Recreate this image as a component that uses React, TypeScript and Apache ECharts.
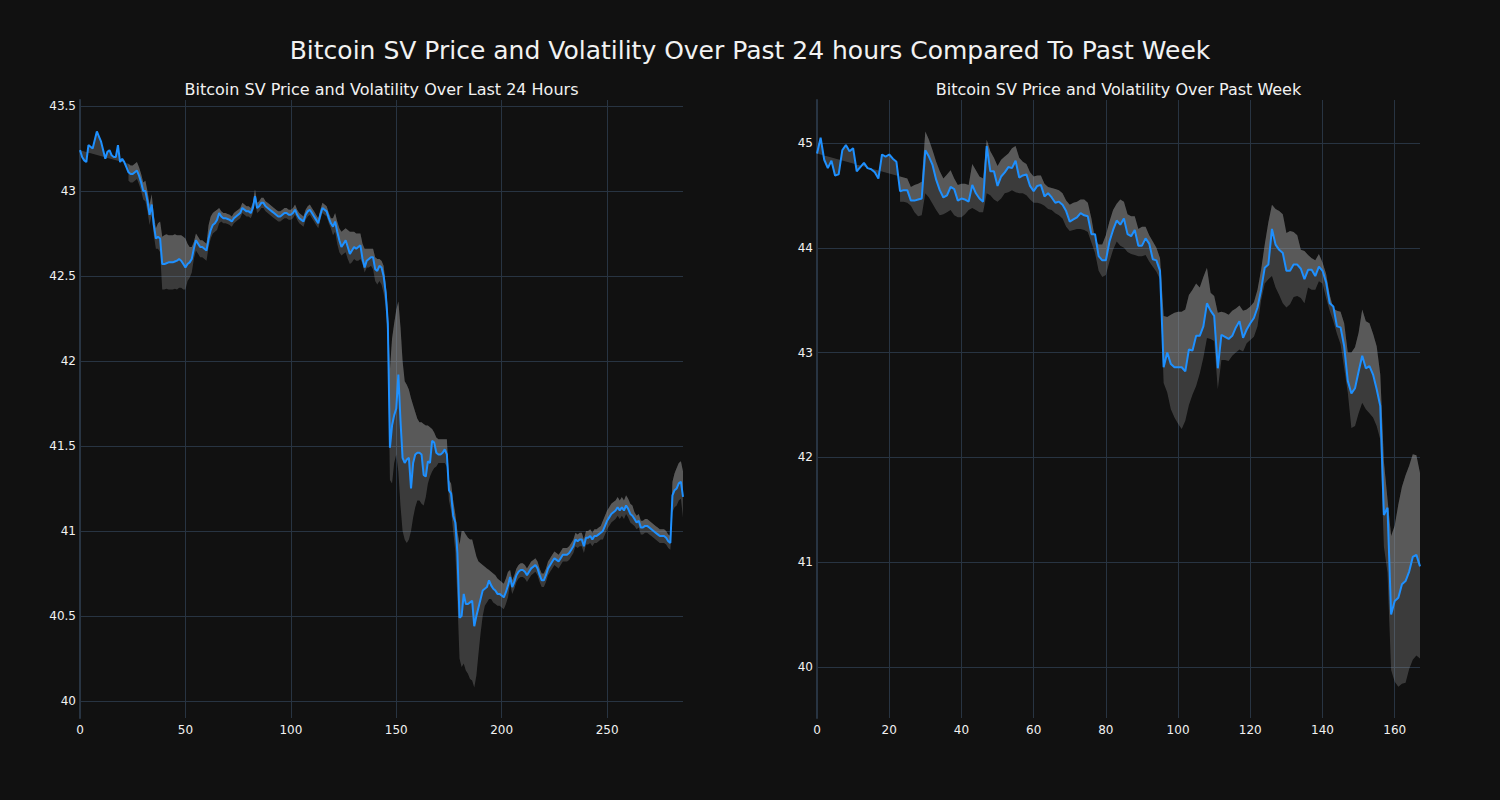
import React, { useEffect, useRef } from "react";
import * as echarts from "echarts";

// ---------- Data: last 24 hours (5-minute steps) ----------
const price24h: number[] = [
  43.24, 43.20, 43.18, 43.17, 43.27, 43.26, 43.25, 43.30, 43.35, 43.32,
  43.29, 43.24, 43.19, 43.23, 43.24, 43.21, 43.20, 43.20, 43.27, 43.17,
  43.19, 43.17, 43.14, 43.11, 43.10, 43.10, 43.11, 43.12, 43.09, 43.05,
  43.00, 43.00, 42.94, 42.86, 42.92, 42.80, 42.72, 42.73, 42.72, 42.57,
  42.57, 42.575, 42.58, 42.58, 42.58, 42.585, 42.59, 42.60, 42.59, 42.57,
  42.55, 42.57, 42.58, 42.60, 42.66, 42.71, 42.69, 42.67, 42.67, 42.66,
  42.65, 42.72, 42.77, 42.80, 42.81, 42.83, 42.87, 42.85, 42.84, 42.84,
  42.835, 42.83, 42.82, 42.84, 42.85, 42.86, 42.87, 42.90, 42.89, 42.88,
  42.88, 42.87, 42.90, 42.97, 42.90, 42.91, 42.93, 42.93, 42.91, 42.90,
  42.89, 42.88, 42.87, 42.86, 42.85, 42.85, 42.86, 42.87, 42.87, 42.86,
  42.86, 42.87, 42.89, 42.86, 42.84, 42.83, 42.82, 42.86, 42.88, 42.89,
  42.87, 42.85, 42.83, 42.81, 42.86, 42.90, 42.89, 42.88, 42.84, 42.81,
  42.79, 42.82, 42.76, 42.71, 42.67, 42.69, 42.71, 42.67, 42.63, 42.65,
  42.67, 42.66, 42.67, 42.68, 42.60, 42.55, 42.59, 42.60, 42.61, 42.61,
  42.54, 42.53, 42.56, 42.55, 42.50, 42.40, 42.22, 41.49, 41.62, 41.68,
  41.72, 41.92, 41.65, 41.43, 41.40, 41.42, 41.43, 41.25, 41.40, 41.45,
  41.46, 41.46, 41.45, 41.33, 41.32, 41.41, 41.40, 41.53, 41.52, 41.46,
  41.45, 41.45, 41.46, 41.48, 41.45, 41.24, 41.22, 41.09, 41.05, 40.87,
  40.49, 40.50, 40.63, 40.57, 40.57, 40.58, 40.59, 40.44, 40.50, 40.55,
  40.60, 40.65, 40.66, 40.67, 40.71, 40.68, 40.66, 40.65, 40.63, 40.63,
  40.62, 40.61, 40.64, 40.68, 40.73, 40.67, 40.70, 40.74, 40.76, 40.77,
  40.77, 40.76, 40.74, 40.76, 40.78, 40.79, 40.80, 40.78, 40.74, 40.71,
  40.71, 40.74, 40.78, 40.80, 40.82, 40.84, 40.83, 40.82, 40.84, 40.86,
  40.86, 40.86, 40.87, 40.89, 40.91, 40.95, 40.94, 40.95, 40.95, 40.91,
  40.96, 40.96, 40.97, 40.95, 40.97, 40.97, 40.98, 40.99, 41.00, 41.03,
  41.06, 41.08, 41.10, 41.11, 41.12, 41.14, 41.12, 41.14, 41.12, 41.15,
  41.13, 41.10, 41.09, 41.07, 41.05, 41.06, 41.02, 41.02, 41.03, 41.03,
  41.02, 41.01, 41.00, 40.99, 40.98, 40.97, 40.97, 40.97, 40.96, 40.94,
  40.93, 41.21, 41.24, 41.25, 41.28, 41.29, 41.20,
];

// band (rolling volatility) starts at this index
const bandStart24h = 23;
// distance from price to the upper band, from index 23 on
const upperSpread24h: number[] = [
  0.05, 0.05, 0.05, 0.05, 0.05, 0.05, 0.05, 0.05,
  0.06, 0.06, 0.06, 0.06, 0.06, 0.06,
  0.08, 0.10,
  0.16, 0.17, 0.17, 0.16, 0.16, 0.16, 0.16, 0.15, 0.14, 0.15, 0.16, 0.17,
  0.12, 0.09, 0.07,
  0.04, 0.04, 0.04, 0.04, 0.04, 0.04, 0.04,
  0.08, 0.08, 0.07, 0.07, 0.06, 0.03,
  0.03, 0.03, 0.03, 0.03, 0.03, 0.03, 0.03, 0.03, 0.03, 0.03,
  0.03, 0.03, 0.03, 0.03, 0.03, 0.03, 0.04, 0.03, 0.03, 0.03,
  0.03, 0.03, 0.03, 0.03, 0.03, 0.03, 0.03, 0.03, 0.03, 0.03,
  0.03, 0.03, 0.03, 0.03, 0.03, 0.03, 0.03, 0.03, 0.03, 0.03,
  0.03, 0.03, 0.03, 0.03, 0.03, 0.03, 0.03, 0.03, 0.03, 0.03,
  0.03, 0.03, 0.03,
  0.05, 0.05, 0.06, 0.07, 0.09, 0.08, 0.07, 0.10, 0.13, 0.11,
  0.09, 0.09, 0.08, 0.07, 0.09, 0.11, 0.07, 0.06, 0.05, 0.05,
  0.07, 0.07, 0.04, 0.04, 0.06,
  0.05, 0.08,
  0.46, 0.51, 0.54, 0.58, 0.43, 0.55, 0.57, 0.48, 0.44, 0.40,
  0.53, 0.34, 0.25, 0.20, 0.18, 0.19, 0.30, 0.30, 0.21, 0.21,
  0.07, 0.06, 0.09, 0.09, 0.09, 0.08, 0.06, 0.09, 0.06, 0.06,
  0.09, 0.05, 0.13, 0.43, 0.50, 0.37, 0.41, 0.39, 0.37, 0.36,
  0.46, 0.35, 0.27, 0.21, 0.15, 0.13, 0.11, 0.06, 0.08, 0.09,
  0.09, 0.09,
  0.08, 0.08, 0.08, 0.08, 0.08,
  0.04, 0.04, 0.04, 0.04, 0.04, 0.04, 0.04, 0.04, 0.04, 0.04,
  0.04, 0.04, 0.04, 0.04, 0.04, 0.04, 0.04, 0.04, 0.04, 0.04,
  0.04, 0.04, 0.04, 0.04, 0.04, 0.04, 0.04, 0.04, 0.04, 0.04,
  0.04, 0.04, 0.04, 0.04, 0.04, 0.04, 0.04, 0.04, 0.04, 0.04,
  0.04, 0.04, 0.04, 0.04,
  0.06, 0.06, 0.06, 0.06, 0.06, 0.06, 0.06, 0.06, 0.06, 0.06,
  0.06, 0.06, 0.06, 0.06, 0.06,
  0.04, 0.04, 0.04, 0.04, 0.04, 0.04, 0.04, 0.04, 0.04, 0.04,
  0.04, 0.04, 0.04, 0.04, 0.04, 0.04, 0.04, 0.04,
  0.08, 0.10, 0.12, 0.12, 0.12, 0.15,
];
// distance from price to the lower band, from index 23 on
const lowerSpread24h: number[] = [
  0.05, 0.05, 0.05, 0.05, 0.05, 0.05, 0.05, 0.05,
  0.06, 0.06, 0.06, 0.06, 0.06, 0.06,
  0.07, 0.08,
  0.15, 0.15, 0.15, 0.16, 0.16, 0.16, 0.16, 0.17, 0.17, 0.16, 0.15, 0.13,
  0.10, 0.09, 0.08,
  0.06, 0.06, 0.06, 0.06, 0.06, 0.06, 0.06,
  0.05, 0.05, 0.05, 0.05, 0.06, 0.06,
  0.03, 0.03, 0.03, 0.03, 0.03, 0.03, 0.03, 0.03, 0.03, 0.03,
  0.03, 0.03, 0.03, 0.03, 0.03, 0.03, 0.03, 0.03, 0.03, 0.03,
  0.03, 0.03, 0.03, 0.03, 0.03, 0.03, 0.03, 0.03, 0.03, 0.03,
  0.03, 0.03, 0.03, 0.03, 0.03, 0.03, 0.03, 0.03, 0.03, 0.03,
  0.03, 0.03, 0.03, 0.03, 0.03, 0.03, 0.03, 0.03, 0.03, 0.03,
  0.03, 0.03, 0.03,
  0.05, 0.06, 0.07, 0.07, 0.05, 0.06, 0.07, 0.07, 0.06, 0.07,
  0.07, 0.07, 0.08, 0.08, 0.03, 0.03, 0.04, 0.05, 0.05, 0.07,
  0.07, 0.08, 0.09, 0.10, 0.10,
  0.08, 0.12,
  0.19, 0.34, 0.28, 0.27, 0.57, 0.50, 0.43, 0.45, 0.49, 0.48,
  0.25, 0.32, 0.31, 0.28, 0.28, 0.29, 0.18, 0.12, 0.13, 0.08,
  0.18, 0.15, 0.08, 0.05, 0.05, 0.06, 0.08, 0.07, 0.06, 0.10,
  0.09, 0.17, 0.27, 0.24, 0.30, 0.41, 0.39, 0.41, 0.45, 0.47,
  0.36, 0.35, 0.27, 0.20, 0.15, 0.10, 0.09, 0.11, 0.08, 0.08,
  0.08, 0.07,
  0.07, 0.07, 0.07, 0.07, 0.07,
  0.04, 0.04, 0.04, 0.04, 0.04, 0.04, 0.04, 0.04, 0.04, 0.04,
  0.04, 0.04, 0.04, 0.04, 0.04, 0.04, 0.04, 0.04, 0.04, 0.04,
  0.04, 0.04, 0.04, 0.04, 0.04, 0.04, 0.04, 0.04, 0.04, 0.04,
  0.04, 0.04, 0.04, 0.04, 0.04, 0.04, 0.04, 0.04, 0.04, 0.04,
  0.04, 0.04, 0.04, 0.04,
  0.05, 0.05, 0.05, 0.05, 0.05, 0.05, 0.05, 0.05, 0.05, 0.05,
  0.05, 0.05, 0.05, 0.05, 0.05,
  0.04, 0.04, 0.04, 0.04, 0.04, 0.04, 0.04, 0.04, 0.04, 0.04,
  0.04, 0.04, 0.04, 0.04, 0.04, 0.04, 0.04, 0.04,
  0.10, 0.10, 0.10, 0.10, 0.10, 0.12,
];

// ---------- Data: past week (hourly) ----------
const priceWeek: number[] = [
  44.90, 45.05, 44.84, 44.76, 44.83, 44.69, 44.70, 44.93, 44.98, 44.92,
  44.95, 44.73, 44.77, 44.81, 44.76, 44.75, 44.72, 44.66, 44.89, 44.87,
  44.89, 44.85, 44.82, 44.54, 44.55, 44.55, 44.45, 44.45, 44.46, 44.47,
  44.93, 44.87, 44.79, 44.65, 44.55, 44.48, 44.50, 44.58, 44.56, 44.45,
  44.47, 44.46, 44.44, 44.60, 44.52, 44.47, 44.44, 44.97, 44.73, 44.73,
  44.59, 44.68, 44.72, 44.77, 44.76, 44.83, 44.67, 44.69, 44.70, 44.59,
  44.54, 44.59, 44.60, 44.49, 44.52, 44.48, 44.43, 44.44, 44.41, 44.35,
  44.25, 44.27, 44.29, 44.33, 44.31, 44.30, 44.13, 44.13, 43.92, 43.88,
  43.88, 44.06, 44.17, 44.26, 44.22, 44.28, 44.13, 44.11, 44.17, 44.02,
  44.02, 44.09, 44.04, 43.89, 43.88, 43.78, 42.86, 43.00, 42.89, 42.86,
  42.86, 42.86, 42.82, 43.03, 43.02, 43.16, 43.16, 43.25, 43.47, 43.40,
  43.35, 42.85, 43.17, 43.15, 43.13, 43.16, 43.24, 43.30, 43.14, 43.22,
  43.28, 43.33, 43.43, 43.60, 43.81, 43.84, 44.18, 44.03, 43.98, 43.95,
  43.78, 43.78, 43.84, 43.84, 43.80, 43.70, 43.79, 43.79, 43.73, 43.82,
  43.78, 43.67, 43.47, 43.44, 43.25, 43.24, 43.06, 42.73, 42.61, 42.66,
  42.82, 42.97, 42.85, 42.87, 42.79, 42.65, 42.49, 41.45, 41.52, 40.50,
  40.63, 40.66, 40.79, 40.82, 40.91, 41.05, 41.07, 40.96,
];

const bandStartWeek = 23;
// upper band, from index 23 on
const upperWeekValues: number[] = [
  44.68, 44.67, 44.66, 44.58, 44.60, 44.61, 44.63,
  45.11, 45.03, 44.93, 44.82, 44.73, 44.66, 44.70, 44.74, 44.66, 44.60,
  44.61, 44.61, 44.60, 44.80, 44.74, 44.68, 44.66, 45.03, 44.92, 44.86,
  44.78, 44.84, 44.87, 44.90, 44.95, 44.97, 44.86, 44.82, 44.80, 44.72,
  44.68, 44.69, 44.69, 44.61, 44.58, 44.57, 44.56, 44.55, 44.52, 44.45,
  44.41, 44.43, 44.44, 44.46, 44.46, 44.43, 44.28, 44.08, 44.03, 44.03,
  44.12, 44.25, 44.36, 44.42, 44.46, 44.44, 44.32, 44.30, 44.30, 44.18,
  44.20, 44.20, 44.12, 44.06, 44.00, 43.90, 43.35, 43.34, 43.36, 43.38,
  43.39, 43.39, 43.41, 43.55, 43.60, 43.66, 43.62, 43.72, 43.81, 43.57,
  43.54, 43.38, 43.39, 43.38, 43.36, 43.40, 43.42, 43.45, 43.40, 43.41,
  43.44, 43.48, 43.60, 43.79, 44.03, 44.24, 44.41, 44.37, 44.35, 44.32,
  44.14, 44.16, 44.15, 44.12, 43.98, 43.97, 43.93, 43.90, 43.88, 43.94,
  43.86, 43.75, 43.55, 43.42, 43.40, 43.39, 43.28, 43.00, 43.00, 43.05,
  43.19, 43.41, 43.30, 43.28, 43.18, 43.06, 42.79, 41.96, 41.60, 41.25,
  41.35, 41.55, 41.72, 41.83, 41.92, 42.03, 42.02, 41.85,
];
// lower band, from index 23 on
const lowerWeekValues: number[] = [
  44.44, 44.44, 44.43, 44.40, 44.34, 44.30, 44.31,
  44.52, 44.48, 44.42, 44.36, 44.31, 44.32, 44.34, 44.36, 44.31, 44.29,
  44.29, 44.32, 44.36, 44.38, 44.36, 44.34, 44.34, 44.52, 44.50, 44.46,
  44.44, 44.47, 44.52, 44.53, 44.55, 44.53, 44.52, 44.52, 44.50, 44.46,
  44.43, 44.43, 44.42, 44.40, 44.37, 44.36, 44.33, 44.31, 44.28, 44.20,
  44.16, 44.17, 44.18, 44.18, 44.17, 44.15, 44.05, 43.95, 43.78, 43.72,
  43.74, 43.87, 43.98, 44.06, 44.02, 44.00, 43.96, 43.94, 43.93, 43.92,
  43.92, 43.93, 43.87, 43.82, 43.77, 43.70, 42.71, 42.62, 42.46, 42.38,
  42.32, 42.27, 42.35, 42.50, 42.60, 42.68, 42.80, 42.95, 43.14, 43.13,
  43.11, 42.65, 42.93, 42.93, 42.92, 42.97, 43.00, 43.03, 43.01, 43.09,
  43.12, 43.15, 43.25, 43.50, 43.66, 43.70, 43.73, 43.62, 43.55, 43.47,
  43.43, 43.46, 43.53, 43.54, 43.52, 43.47, 43.62, 43.60, 43.60, 43.68,
  43.66, 43.52, 43.40, 43.30, 43.18, 43.08, 42.85, 42.62, 42.28, 42.30,
  42.42, 42.52, 42.46, 42.42, 42.38, 42.30, 42.17, 41.15, 40.90, 39.97,
  39.86, 39.81, 39.84, 39.85, 39.98, 40.07, 40.11, 40.08,
];

// ---------- Axis ticks ----------
const yTicks24h = [40, 40.5, 41, 41.5, 42, 42.5, 43, 43.5];
const xTicks24h = [0, 50, 100, 150, 200, 250];
const yTicksWeek = [40, 41, 42, 43, 44, 45];
const xTicksWeek = [0, 20, 40, 60, 80, 100, 120, 140, 160];

const mainTitle = "Bitcoin SV Price and Volatility Over Past 24 hours Compared To Past Week";
const leftTitle = "Bitcoin SV Price and Volatility Over Last 24 Hours";
const rightTitle = "Bitcoin SV Price and Volatility Over Past Week";

// ---------- Styles ----------
const BG = "#111111";
const GRID = "#283442";
const TEXT = "#f2f2f2";
const LINE = "#1e90ff";
const BAND_FILL = "rgba(160,160,160,0.30)";
const FONT = "DejaVu Sans, Verdana, sans-serif";

// build full-length band arrays (null before the rolling window is filled)
const upper24h: (number | null)[] = price24h.map((p, i) =>
  i < bandStart24h ? null : +(p + (upperSpread24h[i - bandStart24h] ?? 0)).toFixed(3)
);
const lower24h: (number | null)[] = price24h.map((p, i) =>
  i < bandStart24h ? null : +(p - (lowerSpread24h[i - bandStart24h] ?? 0)).toFixed(3)
);
const upperWeek: (number | null)[] = priceWeek.map((_, i) =>
  i < bandStartWeek ? null : upperWeekValues[i - bandStartWeek] ?? null
);
const lowerWeek: (number | null)[] = priceWeek.map((_, i) =>
  i < bandStartWeek ? null : lowerWeekValues[i - bandStartWeek] ?? null
);

function bandRenderer(price: number[], upper: (number | null)[], lower: (number | null)[]) {
  return (params: any, api: any) => {
    if (params.dataIndex !== 0) return null;
    const pr: number[][] = [];
    const up: number[][] = [];
    const lo: number[][] = [];
    for (let i = 0; i < price.length; i++) {
      pr.push(api.coord([i, price[i]]));
      const u = upper[i];
      const l = lower[i];
      if (u != null) up.push(api.coord([i, u]));
      if (l != null) lo.push(api.coord([i, l]));
    }
    return {
      type: "group",
      children: [
        {
          type: "polygon",
          shape: { points: up.concat(lo.slice().reverse()) },
          style: { fill: BAND_FILL },
          silent: true,
        },
        {
          type: "polygon",
          shape: { points: pr.concat(up.slice().reverse()) },
          style: { fill: BAND_FILL },
          silent: true,
        },
      ],
    };
  };
}

function axisX(gridIndex: number, max: number, ticks: number[]) {
  return {
    type: "value",
    gridIndex,
    min: 0,
    max,
    axisLine: { show: false },
    axisTick: { show: false, customValues: ticks },
    axisLabel: { color: TEXT, fontSize: 12, fontFamily: FONT, margin: 6, customValues: ticks },
    splitLine: { show: true, lineStyle: { color: GRID, width: 1 } },
  };
}

function axisY(gridIndex: number, min: number, max: number, ticks: number[]) {
  return {
    type: "value",
    gridIndex,
    min,
    max,
    axisLine: { show: true, onZero: false, lineStyle: { color: GRID, width: 2 } },
    axisTick: { show: false, customValues: ticks },
    axisLabel: { color: TEXT, fontSize: 12, fontFamily: FONT, margin: 4, customValues: ticks },
    splitLine: { show: true, lineStyle: { color: GRID, width: 1 } },
  };
}

export default function App() {
  const ref = useRef<HTMLDivElement>(null);

  useEffect(() => {
    document.body.style.margin = "0";
    document.body.style.background = BG;
    if (!ref.current) return;
    const chart = echarts.init(ref.current, null, { renderer: "svg" });
    chart.setOption({
      animation: false,
      backgroundColor: BG,
      textStyle: { fontFamily: FONT },
      grid: [
        { left: 80, right: 817, top: 100, bottom: 82 },
        { left: 817, right: 80, top: 100, bottom: 82 },
      ],
      xAxis: [axisX(0, price24h.length - 1, xTicks24h), axisX(1, priceWeek.length - 1, xTicksWeek)],
      yAxis: [axisY(0, 39.9, 43.535, yTicks24h), axisY(1, 39.513, 45.41, yTicksWeek)],
      graphic: [
        {
          type: "text",
          x: 750,
          y: 50,
          style: {
            text: mainTitle,
            fill: TEXT,
            fontSize: 25,
            fontFamily: FONT,
            align: "center",
            verticalAlign: "middle",
            textAlign: "center",
            textVerticalAlign: "middle",
          },
        },
        {
          type: "text",
          x: 381.5,
          y: 89,
          style: {
            text: leftTitle,
            fill: TEXT,
            fontSize: 16,
            fontFamily: FONT,
            align: "center",
            verticalAlign: "middle",
            textAlign: "center",
            textVerticalAlign: "middle",
          },
        },
        {
          type: "text",
          x: 1118.5,
          y: 89,
          style: {
            text: rightTitle,
            fill: TEXT,
            fontSize: 16,
            fontFamily: FONT,
            align: "center",
            verticalAlign: "middle",
            textAlign: "center",
            textVerticalAlign: "middle",
          },
        },
      ],
      series: [
        {
          type: "custom",
          xAxisIndex: 0,
          yAxisIndex: 0,
          z: 1,
          silent: true,
          renderItem: bandRenderer(price24h, upper24h, lower24h),
          data: [[0, price24h[0]]],
        },
        {
          type: "line",
          xAxisIndex: 0,
          yAxisIndex: 0,
          z: 3,
          showSymbol: false,
          silent: true,
          lineStyle: { color: LINE, width: 2 },
          data: price24h.map((v, i) => [i, v]),
        },
        {
          type: "custom",
          xAxisIndex: 1,
          yAxisIndex: 1,
          z: 1,
          silent: true,
          renderItem: bandRenderer(priceWeek, upperWeek, lowerWeek),
          data: [[0, priceWeek[0]]],
        },
        {
          type: "line",
          xAxisIndex: 1,
          yAxisIndex: 1,
          z: 3,
          showSymbol: false,
          silent: true,
          lineStyle: { color: LINE, width: 2 },
          data: priceWeek.map((v, i) => [i, v]),
        },
      ],
    });
    return () => chart.dispose();
  }, []);

  return <div ref={ref} style={{ width: 1500, height: 800 }} />;
}
